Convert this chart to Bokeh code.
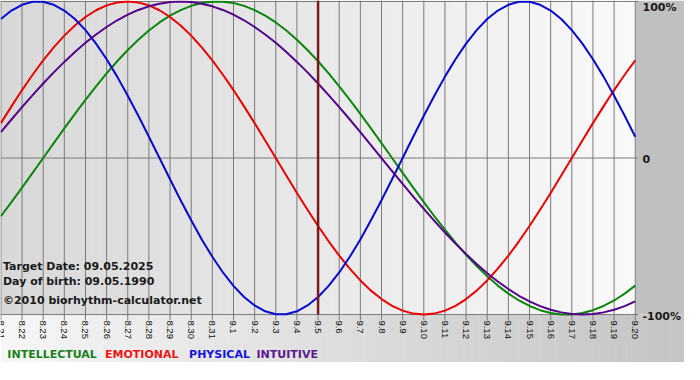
import numpy as np
from math import pi
from bokeh.plotting import figure
from bokeh.models import Range1d, Label
from bokeh.core.properties import value
from bokeh.embed import file_html
from bokeh.resources import INLINE

# ---------------- data ----------------
DATES = ["8.21", "8.22", "8.23", "8.24", "8.25", "8.26", "8.27", "8.28", "8.29", "8.30", "8.31",
         "9.1", "9.2", "9.3", "9.4", "9.5", "9.6", "9.7", "9.8", "9.9", "9.10",
         "9.11", "9.12", "9.13", "9.14", "9.15", "9.16", "9.17", "9.18", "9.19", "9.20"]
TARGET = "9.5"
SAMPLE_STEP = 0.5   # curves read every half day, from 8.21 to 9.20

INTELLECTUAL = [-0.372, -0.282, -0.189, -0.095, 0.0, 0.095, 0.189, 0.282, 0.372, 0.458,
                0.541, 0.618, 0.690, 0.756, 0.815, 0.866, 0.910, 0.945, 0.972, 0.990,
                0.999, 0.999, 0.990, 0.972, 0.945, 0.910, 0.866, 0.815, 0.756, 0.690,
                0.618, 0.541, 0.458, 0.372, 0.282, 0.189, 0.095, 0.0, -0.095, -0.189,
                -0.282, -0.372, -0.458, -0.541, -0.618, -0.690, -0.756, -0.815, -0.866, -0.910,
                -0.945, -0.972, -0.990, -0.999, -0.999, -0.990, -0.972, -0.945, -0.910, -0.866,
                -0.815]
EMOTIONAL = [0.223, 0.330, 0.434, 0.532, 0.624, 0.707, 0.782, 0.847, 0.901, 0.944,
             0.975, 0.994, 1.0, 0.994, 0.975, 0.944, 0.901, 0.847, 0.782, 0.707,
             0.624, 0.532, 0.434, 0.330, 0.223, 0.112, 0.0, -0.112, -0.223, -0.330,
             -0.434, -0.532, -0.624, -0.707, -0.782, -0.847, -0.901, -0.944, -0.975, -0.994,
             -1.0, -0.994, -0.975, -0.944, -0.901, -0.847, -0.782, -0.707, -0.624, -0.532,
             -0.434, -0.330, -0.223, -0.112, 0.0, 0.112, 0.223, 0.330, 0.434, 0.532,
             0.624]
PHYSICAL = [0.888, 0.942, 0.979, 0.998, 0.998, 0.979, 0.942, 0.888, 0.817, 0.731,
            0.631, 0.520, 0.398, 0.270, 0.136, 0.0, -0.136, -0.270, -0.398, -0.520,
            -0.631, -0.731, -0.817, -0.888, -0.942, -0.979, -0.998, -0.998, -0.979, -0.942,
            -0.888, -0.817, -0.731, -0.631, -0.520, -0.398, -0.270, -0.136, 0.0, 0.136,
            0.270, 0.398, 0.520, 0.631, 0.731, 0.817, 0.888, 0.942, 0.979, 0.998,
            0.998, 0.979, 0.942, 0.888, 0.817, 0.731, 0.631, 0.520, 0.398, 0.270,
            0.136]
INTUITIVE = [0.165, 0.246, 0.325, 0.402, 0.476, 0.547, 0.614, 0.677, 0.736, 0.789,
             0.837, 0.880, 0.916, 0.946, 0.969, 0.986, 0.997, 1.0, 0.997, 0.986,
             0.969, 0.946, 0.916, 0.880, 0.837, 0.789, 0.736, 0.677, 0.614, 0.547,
             0.476, 0.402, 0.325, 0.246, 0.165, 0.083, 0.0, -0.083, -0.165, -0.246,
             -0.325, -0.402, -0.476, -0.547, -0.614, -0.677, -0.736, -0.789, -0.837, -0.880,
             -0.916, -0.946, -0.969, -0.986, -0.997, -1.0, -0.997, -0.986, -0.969, -0.946,
             -0.916]

Y_TICKS = [1, 0, -1]
Y_LABELS = ["100%", "0", "-100%"]
INFO = ["Target Date: 09.05.2025", "Day of birth: 09.05.1990", "\u00a92010 biorhythm-calculator.net"]
LEGEND = ["INTELLECTUAL", "EMOTIONAL", "PHYSICAL", "INTUITIVE"]

SERIES = [(INTELLECTUAL, "#0a840a"), (EMOTIONAL, "#e80000"), (PHYSICAL, "#0808cc"), (INTUITIVE, "#520088")]
LEGEND_COLORS = ["#1a7f1a", "#f01414", "#1414dc", "#5a1a8c"]

# ---------------- layout helpers (reference pixel -> data) ----------------
PX_DAY = 21.64
FIRST = -(len(DATES) // 2)
X0 = FIRST - 0.4 / PX_DAY
X1 = X0 + 700 / PX_DAY
def rx(px):
    return X0 + px / PX_DAY
def ry(py):
    return (161 - py) / 160.0
Y1 = ry(0)
Y0 = ry(370)

days = [FIRST + i for i in range(len(DATES))]
target_x = days[DATES.index(TARGET)]
sample_x = [FIRST + i * SAMPLE_STEP for i in range(len(PHYSICAL))]

p = figure(width=684, height=362, x_range=Range1d(X0, X1), y_range=Range1d(Y0, Y1),
           output_backend="svg", toolbar_location=None, x_axis_type=None, y_axis_type=None,
           min_border=0, outline_line_color=None, background_fill_color="white",
           border_fill_color="white")
p.grid.visible = False

def shade(v):
    v = int(round(v))
    return "#%02x%02x%02x" % (v, v, v)

# graph gradient background
N = 90
e = np.linspace(X0, rx(650), N + 1)
p.quad(left=e[:-1], right=e[1:] + 0.02, bottom=-1, top=Y1,
       fill_color=[shade(s) for s in np.linspace(216, 249, N)], line_color=None)
# right panel
p.quad(left=[rx(650)], right=[X1], bottom=[-1], top=[Y1], fill_color="#c0c0c0", line_color=None)
# bottom strip gradient
e2 = np.linspace(X0, X1, N + 1)
p.quad(left=e2[:-1], right=e2[1:] + 0.02, bottom=Y0, top=-1,
       fill_color=[shade(s) for s in np.linspace(246, 196, N)], line_color=None)

# grid lines
p.segment(x0=days, y0=[ry(327)] * len(days), x1=days, y1=[Y1] * len(days),
          line_color="#7a7a7a", line_width=1)
p.segment(x0=[X0] * 3, y0=Y_TICKS, x1=[rx(652.5)] * 3, y1=Y_TICKS,
          line_color="#7a7a7a", line_width=1)

# curves
for vals, col in SERIES:
    p.line(sample_x, vals, line_color=col, line_width=2, line_join="round")

# target line
p.segment(x0=[target_x], y0=[-1], x1=[target_x], y1=[Y1], line_color="#7a1c1c", line_width=2.5)

# x labels
p.text(x=days, y=[ry(327)] * len(days), text=DATES, angle=-pi / 2,
       text_align="left", text_baseline="middle", text_font=value("Liberation Sans"),
       text_font_size="9.5px", text_color="#111111")

# right labels
p.text(x=[rx(657)] * 3, y=Y_TICKS, text=Y_LABELS, y_offset=[6, 1, 2],
       text_align="left", text_baseline="middle", text_font=value("DejaVu Sans"),
       text_font_style="bold", text_font_size="11px", text_color="#1a1a1a")

# info text
for t, py in zip(INFO, [272, 287, 307]):
    p.add_layout(Label(x=rx(2.5), y=ry(py), text=t, text_baseline="middle", text_align="left",
                       text_font="DejaVu Sans", text_font_style="bold", text_font_size="11px",
                       text_color="#1a1a1a"))

# legend words
for t, c, px in zip(LEGEND, LEGEND_COLORS, [7, 107, 193, 262]):
    p.add_layout(Label(x=rx(px), y=ry(362), text=t, text_baseline="middle", text_align="left",
                       text_font="DejaVu Sans", text_font_style="bold", text_font_size="11px",
                       text_color=c))

open("out.html", "w").write(file_html(p, INLINE))
